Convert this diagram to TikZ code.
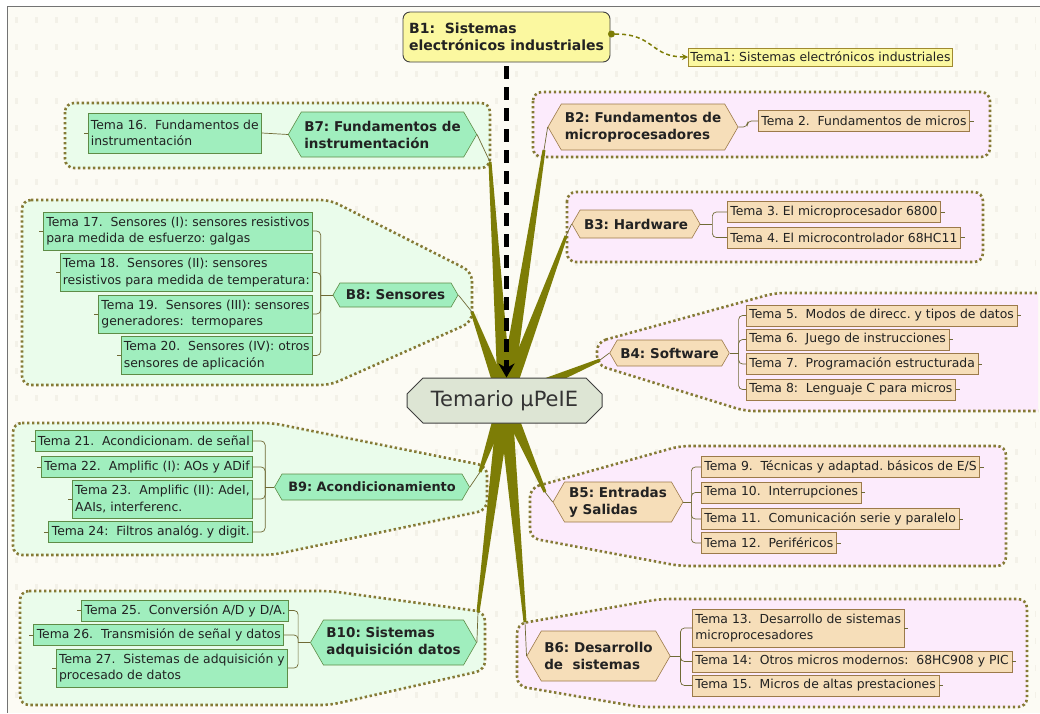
\documentclass[tikz,border=0pt]{standalone}
\usepackage{fontspec}
\setmainfont{DejaVu Sans}
\usetikzlibrary{shapes.symbols,shapes.misc,calc,arrows.meta}
\frenchspacing
\definecolor{bgc}{HTML}{FCFBF4}
\definecolor{gridc}{HTML}{F3F1E8}
\definecolor{brc}{HTML}{7D7D06}
\definecolor{dotc}{HTML}{857A35}
\definecolor{gfill}{HTML}{EAFCEB}
\definecolor{pfill}{HTML}{FCEBFC}
\definecolor{tg}{HTML}{A0EEBE}
\definecolor{tgd}{HTML}{5E8C46}
\definecolor{tt}{HTML}{F6DEB9}
\definecolor{ttd}{HTML}{9C7A4A}
\definecolor{yb}{HTML}{FBF8A0}
\definecolor{ybd}{HTML}{A08A30}
\definecolor{cfill}{HTML}{DDE5D4}
\definecolor{linec}{HTML}{6F6A35}
\definecolor{txtc}{HTML}{222222}
\newcommand{\brnch}[1]{\fill[brc] ($(C)!7pt!90:(#1)$) -- ($(#1)!1.5pt!-90:(C)$) -- ($(#1)!1.5pt!90:(C)$) -- ($(C)!7pt!-90:(#1)$) -- cycle;}
\tikzset{
  grp/.style={draw=dotc, line width=2.6pt, dash pattern=on 2.4pt off 2.6pt, rounded corners=9pt},
  tbase/.style={line width=0.6pt, font=\fontsize{12.4}{16.5}\selectfont, text=txtc, inner xsep=3pt, inner ysep=2pt, align=left, minimum height=21pt},
  temag/.style={tbase, draw=tgd, fill=tg, anchor=east},
  temat/.style={tbase, draw=ttd, fill=tt, anchor=west},
  bhex/.style={signal, signal to=west and east, signal pointer angle=120, font=\bfseries\fontsize{13.5}{17}\selectfont, text=txtc, align=left, inner xsep=3pt, inner ysep=2pt, line width=0.6pt},
  bg/.style={bhex, fill=tg, draw=tgd},
  bt/.style={bhex, fill=tt, draw=ttd},
  conn/.style={draw=linec, line width=0.7pt, rounded corners=4pt},
  stub/.style={draw=linec, line width=0.6pt}
}
\begin{document}
\begin{tikzpicture}[x=1pt,y=-1pt]
\useasboundingbox (0,0) rectangle (1040,713);
\fill[white] (0,0) rectangle (1040,713);
\fill[bgc] (7,6) rectangle (1040,713);
\foreach \yy in {20,47,...,700}
  \draw[gridc, line width=6pt, dash pattern=on 3pt off 17pt] (15,\yy) -- (1036,\yy);
% groups
\begin{scope}
\clip (7,6) rectangle (1038,713);
\path[grp, fill=gfill] (65,103) rectangle (490,168);
\path[grp, fill=pfill] (533,92) rectangle (990,157);
\path[grp, fill=pfill] (567,192) rectangle (983,262);
\path[grp, fill=pfill] (597,342) -- (775,293) -- (1060,293) -- (1060,411) -- (745,411) -- (597,365) -- cycle;
\path[grp, fill=gfill] (22,200) -- (330,200) -- (472,272) -- (472,322) -- (330,385) -- (22,385) -- cycle;
\path[grp, fill=gfill] (13,423) -- (272,423) -- (487,466) -- (487,510) -- (272,555) -- (13,555) -- cycle;
\path[grp, fill=gfill] (20,591) -- (330,591) -- (485,612) -- (485,670) -- (330,705) -- (20,705) -- cycle;
\path[grp, fill=pfill] (530,488) -- (680,446) -- (1006,446) -- (1006,566) -- (680,566) -- (530,538) -- cycle;
\path[grp, fill=pfill] (517,624) -- (660,599) -- (1027,599) -- (1027,707) -- (640,707) -- (517,686) -- cycle;
\end{scope}
% branch end points
\coordinate (C) at (505,400);
\coordinate (e7) at (490,162);
\coordinate (e2) at (544,150);
\coordinate (e8) at (472,312);
\coordinate (e3) at (566,236);
\coordinate (e4) at (600,360);
\coordinate (e9) at (480,472);
\coordinate (e5) at (545,492);
\coordinate (e10) at (478,612);
\coordinate (e6) at (525,622);
\brnch{e7}\brnch{e2}\brnch{e8}\brnch{e3}\brnch{e4}\brnch{e9}\brnch{e5}\brnch{e10}\brnch{e6}
% B nodes
\node[bt, minimum width=190pt, minimum height=46pt] (b2) at (643,127) {B2: Fundamentos de\\microprocesadores};
\node[bt, minimum width=128pt, minimum height=28pt] (b3) at (636,224) {B3: Hardware};
\node[bt, minimum width=115pt, minimum height=26pt] (b4) at (669.5,353) {B4: Software};
\node[bt, minimum width=130pt, minimum height=40pt] (b5) at (618,502) {B5: Entradas\\y Salidas};
\node[bt, minimum width=133pt, minimum height=50pt] (b6) at (598.5,656) {B6: Desarrollo\\de~ sistemas};
\node[bg, minimum width=185pt, minimum height=45pt] (b7) at (382.5,134.5) {B7: Fundamentos de\\instrumentación};
\node[bg, minimum width=125pt, minimum height=24pt] (b8) at (395.5,295) {B8: Sensores};
\node[bg, minimum width=195pt, minimum height=26pt, inner xsep=1pt, font=\bfseries\fontsize{12.9}{15}\selectfont] (b9) at (372,487) {B9: Acondicionamiento};
\node[bg, minimum width=161pt, minimum height=45pt] (b10) at (393.5,642.5) {B10: Sistemas\\adquisición datos};
% Tema nodes right
\node[temat] (t2) at (758,121) {Tema 2.~ Fundamentos de micros};
\node[temat] (t3) at (727,212) {Tema 3. El microprocesador 6800};
\node[temat] (t4) at (727,237.5) {Tema 4. El microcontrolador 68HC11};
\node[temat] (t5) at (746,315.5) {Tema 5.~ Modos de direcc. y tipos de datos};
\node[temat] (t6) at (746,339.5) {Tema 6.~ Juego de instrucciones};
\node[temat] (t7) at (746,364) {Tema 7.~ Programación estructurada};
\node[temat] (t8) at (746,389.5) {Tema 8:~ Lenguaje C para micros};
\node[temat] (t9) at (701,467) {Tema 9.~ Técnicas y adaptad. básicos de E/S};
\node[temat] (t10) at (701,492.5) {Tema 10.~ Interrupciones};
\node[temat] (t11) at (701,519) {Tema 11.~ Comunicación serie y paralelo};
\node[temat] (t12) at (701,543) {Tema 12.~ Periféricos};
\node[temat, minimum height=38pt] (t13) at (692,628) {Tema 13.~ Desarrollo de sistemas\\microprocesadores};
\node[temat] (t14) at (692,661.5) {Tema 14:~ Otros micros modernos:~ 68HC908 y PIC};
\node[temat] (t15) at (692,685.5) {Tema 15.~ Micros de altas prestaciones};
% Tema nodes left
\node[temag, minimum height=40pt] (t16) at (262,133) {Tema 16.~ Fundamentos de\\instrumentación};
\node[temag, minimum height=38pt] (t17) at (313,231) {Tema 17.~ Sensores (I): sensores resistivos\\para medida de esfuerzo: galgas};
\node[temag, minimum height=38pt] (t18) at (313,272.5) {Tema 18.~ Sensores (II): sensores\\resistivos para medida de temperatura:};
\node[temag, minimum height=38pt] (t19) at (313,314) {Tema 19.~ Sensores (III): sensores\\generadores:~ termopares};
\node[temag, minimum height=38pt] (t20) at (313,355.5) {Tema 20.~ Sensores (IV): otros\\sensores de aplicación};
\node[temag] (t21) at (253,441) {Tema 21.~ Acondicionam. de señal};
\node[temag] (t22) at (253,467) {Tema 22.~ Amplific (I): AOs y ADif};
\node[temag, minimum height=38pt] (t23) at (253,499) {Tema 23.~ Amplific (II): AdeI,\\AAIs, interferenc.};
\node[temag] (t24) at (253,532) {Tema 24:~ Filtros analóg. y digit.};
\node[temag] (t25) at (289,610.5) {Tema 25.~ Conversión A/D y D/A.};
\node[temag] (t26) at (284,635) {Tema 26.~ Transmisión de señal y datos};
\node[temag, minimum height=38pt] (t27) at (288,668) {Tema 27.~ Sistemas de adquisición y\\procesado de datos};
% thin links B -> branch
\draw[conn] (b7.east) -- (e7);
\draw[conn] (b2.west) -- (e2);
\draw[conn] (b8.east) -- (e8);
\draw[conn] (b3.west) -- (e3);
\draw[conn] (b4.west) -- (e4);
\draw[conn] (b9.east) -- (e9);
\draw[conn] (b5.west) -- (e5);
\draw[conn] (b10.east) -- (e10);
\draw[conn] (b6.west) -- (e6);
% brackets right
\coordinate (s2) at ($(b2.east)+(9,0)$);
\draw[conn] (b2.east) -- (s2) |- (t2.west);
\coordinate (s3) at ($(b3.east)+(12,0)$);
\draw[conn] (b3.east) -- (s3);
\foreach \t in {t3,t4} \draw[conn] (s3) |- (\t.west);
\coordinate (s4) at ($(b4.east)+(9,0)$);
\draw[conn] (b4.east) -- (s4);
\foreach \t in {t5,t6,t7,t8} \draw[conn] (s4) |- (\t.west);
\coordinate (s5) at ($(b5.east)+(8,0)$);
\draw[conn] (b5.east) -- (s5);
\foreach \t in {t9,t10,t11,t12} \draw[conn] (s5) |- (\t.west);
\coordinate (s6) at ($(b6.east)+(10,0)$);
\draw[conn] (b6.east) -- (s6);
\foreach \t in {t13,t14,t15} \draw[conn] (s6) |- (\t.west);
% brackets left
\draw[conn] (b7.west) -- (t16.east);
\coordinate (s8) at ($(b8.west)+(-12,0)$);
\draw[conn] (b8.west) -- (s8);
\foreach \t in {t17,t18,t19,t20} \draw[conn] (s8) |- (\t.east);
\coordinate (s9) at ($(b9.west)+(-9,0)$);
\draw[conn] (b9.west) -- (s9);
\foreach \t in {t21,t22,t23,t24} \draw[conn] (s9) |- (\t.east);
\coordinate (s10) at ($(b10.west)+(-12,0)$);
\draw[conn] (b10.west) -- (s10);
\foreach \t in {t25,t26,t27} \draw[conn] (s10) |- (\t.east);
% stubs
\foreach \t in {t2,t3,t4,t5,t6,t7,t8,t9,t10,t11,t12,t13,t14,t15} \draw[stub] (\t.east) -- ++(4,0);
\foreach \t in {t16,t17,t18,t19,t20,t21,t22,t23,t24,t25,t26,t27} \draw[stub] (\t.west) -- ++(-4,0);
% central node
\node[chamfered rectangle, chamfered rectangle xsep=8pt, chamfered rectangle ysep=8pt, draw=black!75, line width=1pt, fill=cfill, minimum width=195pt, minimum height=45pt, inner sep=2pt, text=black!80, font=\fontsize{21}{24}\selectfont] (c) at (504.5,400.5) {Temario μPeIE};
% B1
\node[draw=black!75, line width=0.9pt, fill=yb, rounded corners=7pt, minimum width=207pt, minimum height=50pt, align=left, inner sep=4pt, text=txtc, font=\bfseries\fontsize{14}{17}\selectfont] (b1) at (506.5,37) {B1:~ Sistemas\\electrónicos industriales};
\node[draw=ybd, line width=0.8pt, fill=yb, minimum height=18pt, inner xsep=2pt, inner ysep=1pt, anchor=west, text=txtc, font=\fontsize{12.4}{14}\selectfont] (tm1) at (688,57) {Tema1: Sistemas electrónicos industriales};
\node[circle, fill=brc, inner sep=0pt, minimum size=7pt] (dt) at ($(b1.east)+(1,-3)$) {};
\draw[brc, line width=1.5pt, dash pattern=on 4pt off 3pt, -{Stealth[length=6pt,width=6pt]}] (dt.east) .. controls (655,34) and (650,57) .. (tm1.west);
\draw[black, line width=4.5pt, dash pattern=on 13pt off 8pt, shorten <=4pt, -{Stealth[length=14pt,width=16pt]}] (b1.south) -- (b1.south |- c.north);
% frame
\draw[black!55, line width=0.8pt] (7,6) -- (1040,6);
\draw[black!55, line width=0.8pt] (7,6) -- (7,713);
\end{tikzpicture}
\end{document}
